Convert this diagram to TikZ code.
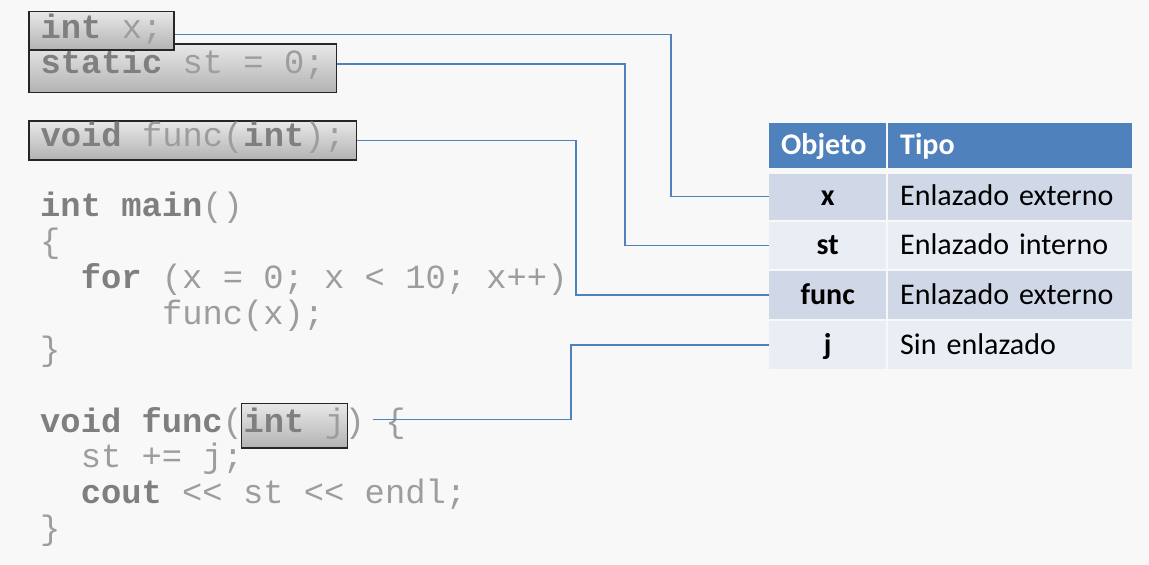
\documentclass[tikz,border=0pt]{standalone}
\usepackage{fontspec}
\setmonofont{Liberation Mono}
\newfontfamily\tabfont{Carlito}
\usepackage{xcolor}
\usepackage{tikz}
\usetikzlibrary{positioning}

\definecolor{linkblue}{HTML}{4F81BD}
\definecolor{hdrblue}{HTML}{4F81BD}
\definecolor{rowdark}{HTML}{D0D8E8}
\definecolor{rowlight}{HTML}{E9EDF4}
\definecolor{codegray}{HTML}{9D9D9D}
\definecolor{kwgray}{HTML}{7F7F7F}
\definecolor{boxtop}{HTML}{E8E8E8}
\definecolor{boxbot}{HTML}{B2B2B2}
\definecolor{bggray}{HTML}{F8F8F8}

\newcommand{\kw}[1]{\textbf{\textcolor{kwgray}{#1}}}

\tikzset{
  code/.style={anchor=base west, inner sep=0pt, text=codegray,
    font=\ttfamily\fontsize{33.8}{36}\selectfont},
  codebox/.style={code, draw=black!85, line width=1.3pt,
    top color=boxtop, bottom color=boxbot, inner xsep=11.7pt},
  link/.style={linkblue, line width=1.5pt},
  cell/.style={anchor=north west, inner xsep=12pt, inner ysep=0pt,
    text height=22pt, text depth=3.2pt,
    font=\tabfont\fontsize{30}{36}\selectfont},
  objcell/.style={cell, minimum width=117pt, text width=93pt, align=center},
  tipocell/.style={cell, minimum width=243.7pt, text width=219.7pt, align=left},
  hdr/.style={fill=hdrblue, text=white, minimum height=44.8pt, font=\tabfont\bfseries\fontsize{30}{36}\selectfont}
}

\begin{document}
\begin{tikzpicture}[x=1pt,y=-1pt]
    \useasboundingbox[fill=bggray] (0,0) rectangle (1149,565);

    % declarations in boxes
    \node[codebox, text height=29pt, text depth=19.7pt] (bst) at (28.3,73) {\kw{static} st = 0;};
    \node[codebox, text height=26.6pt, text depth=11.7pt] (bx) at (28.3,38.3) {\kw{int} x;};
    \node[codebox, text height=25.7pt, text depth=13.3pt] (bfunc) at (28.3,146.7) {\kw{void} func(\kw{int});};

    % main
    \node[code] (lmain) at (40,216) {\kw{int} \kw{main}()};
    \node[code] (lopen) at (40,252) {\{};
    \node[code] (lfor) at (80.6,288) {\kw{for} (x = 0; x < 10; x++)};
    \node[code] (lcall) at (161.8,324) {func(x);};
    \node[code] (lclose) at (40,360) {\}};

    % func
    \node[code] (lfunca) at (40,432) {\kw{void} \kw{func}(};
    \node[codebox, inner xsep=2.5pt, text height=28.3pt, text depth=16pt] (bj) at (240.5,432) {\kw{int} j};
    \node[code] (lfuncb) at (344.5,432) {) \{};
    \node[code] (lbody) at (80.6,467.5) {st += j;};
    \node[code] (lcout) at (80.6,503) {\kw{cout} << st << endl;};
    \node[code] (lend) at (40,539) {\}};

    % table
    \node[objcell, hdr, align=left] (hobj) at (769,122.7) {Objeto};
    \node[tipocell, hdr] (htipo) at (888,122.7) {Tipo};
    \node[objcell, fill=rowdark, minimum height=46pt, font=\tabfont\bfseries\fontsize{30}{36}\selectfont] (ox) at (769,173.3) {x};
    \node[tipocell, fill=rowdark, minimum height=46pt] (tx) at (888,173.3) {Enlazado externo};
    \node[objcell, fill=rowlight, minimum height=47.3pt, font=\tabfont\bfseries\fontsize{30}{36}\selectfont] (ost) at (769,221.7) {st};
    \node[tipocell, fill=rowlight, minimum height=47.3pt] (tst) at (888,221.7) {Enlazado interno};
    \node[objcell, fill=rowdark, minimum height=48pt, font=\tabfont\bfseries\fontsize{30}{36}\selectfont] (ofunc) at (769,271) {func};
    \node[tipocell, fill=rowdark, minimum height=48pt] (tfunc) at (888,271) {Enlazado externo};
    \node[objcell, fill=rowlight, minimum height=47.3pt, font=\tabfont\bfseries\fontsize{30}{36}\selectfont] (oj) at (769,321) {j};
    \node[tipocell, fill=rowlight, minimum height=47.3pt] (tj) at (888,321) {Sin enlazado};

    % links
    \coordinate (jline) at (373,419.3);
    \draw[link] ([yshift=-3.5pt]bx.east) -| (671,0 |- ox.west) -- (ox.west);
    \draw[link] ([yshift=4.4pt]bst.east) -| (625,0 |- ost.west) -- (ost.west);
    \draw[link] (bfunc.east) -| (576,0 |- ofunc.west) -- (ofunc.west);
    \draw[link] (jline) -| (571,0 |- oj.west) -- (oj.west);
\end{tikzpicture}
\end{document}
